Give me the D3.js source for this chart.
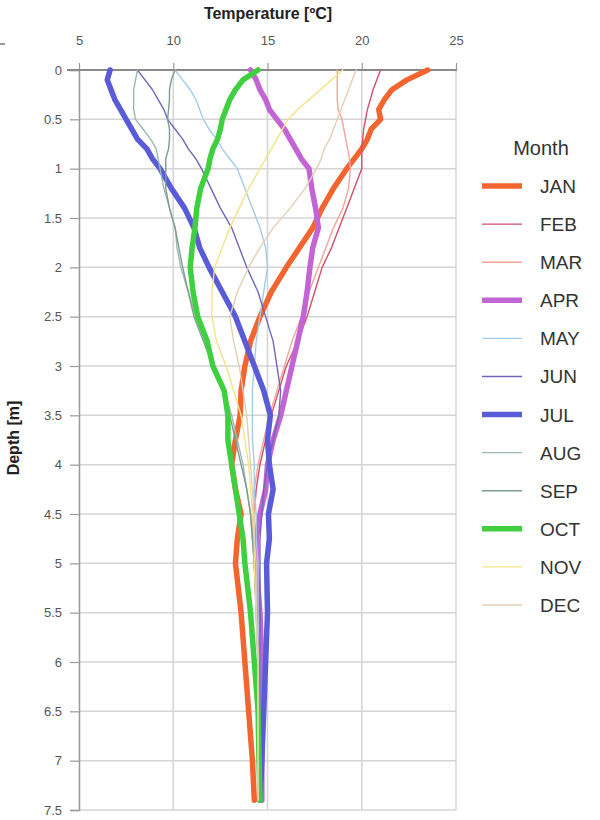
<!DOCTYPE html>
<html>
<head>
<meta charset="utf-8">
<script src="https://cdn.jsdelivr.net/npm/d3@7"></script>
<style>
  html, body { margin: 0; padding: 0; background: #fff; }
  svg { display: block; font-family: "Liberation Sans", Arial, sans-serif; }
</style>
</head>
<body>
<svg id="chart" width="600" height="820"></svg>
<script>
// Sampling depths (m) shared by every monthly profile
const depths = [0, 0.1, 0.2, 0.3, 0.4, 0.5, 0.6, 0.7, 0.8, 0.9, 1.0, 1.2, 1.4, 1.6, 1.8, 2.0,
  2.25, 2.5, 2.75, 3.0, 3.25, 3.5, 3.75, 4.0, 4.25, 4.5, 4.75, 5.0, 5.5, 6.0, 6.5, 7.0, 7.4];

// Monthly water temperature profiles (ºC), one value per depth
const JAN = [23.5, 22.4, 21.6, 21.2, 20.9, 21.0, 20.5, 20.3, 20.0, 19.6, 19.2, 18.5, 17.9, 17.4, 16.7, 16.0,
  15.2, 14.6, 14.1, 13.8, 13.6, 13.55, 13.3, 13.1, 13.3, 13.6, 13.4, 13.3, 13.6, 13.8, 14.0, 14.2, 14.3];
const FEB = [21.0, 20.8, 20.6, 20.45, 20.3, 20.2, 20.1, 20.05, 20.0, 20.0, 20.0, 19.6, 19.2, 18.8, 18.4, 17.9,
  17.5, 17.1, 16.6, 16.0, 15.6, 15.2, 14.9, 14.6, 14.4, 14.3, 14.3, 14.4, 14.5, 14.6, 14.6, 14.6, 14.6];
const MAR = [18.7, 18.7, 18.7, 18.7, 18.75, 18.95, 19.05, 19.15, 19.25, 19.35, 19.4, 19.3, 19.0, 18.5, 18.1, 17.7,
  17.2, 16.8, 16.3, 15.9, 15.5, 15.1, 14.8, 14.5, 14.3, 14.2, 14.2, 14.3, 14.4, 14.5, 14.5, 14.5, 14.5];
const APR = [14.1, 14.4, 14.6, 14.9, 15.1, 15.5, 15.9, 16.2, 16.5, 16.8, 17.2, 17.35, 17.55, 17.7, 17.4, 17.25,
  17.1, 16.9, 16.6, 16.3, 16.0, 15.7, 15.3, 15.0, 14.9, 14.6, 14.4, 14.4, 14.6, 14.7, 14.7, 14.7, 14.7];
const MAY = [10.1, 10.5, 10.9, 11.2, 11.4, 11.6, 11.9, 12.3, 12.6, 13.0, 13.4, 13.8, 14.2, 14.6, 14.9, 15.0,
  14.8, 14.6, 14.4, 14.3, 14.2, 14.2, 14.2, 14.3, 14.3, 14.4, 14.4, 14.5, 14.5, 14.6, 14.6, 14.6, 14.6];
const JUN = [8.1, 8.5, 8.9, 9.2, 9.5, 9.7, 10.1, 10.5, 10.8, 11.2, 11.5, 12.0, 12.5, 13.1, 13.5, 13.9,
  14.5, 14.9, 15.3, 15.5, 15.7, 15.6, 15.3, 15.0, 14.8, 14.7, 14.6, 14.6, 14.6, 14.6, 14.6, 14.6, 14.6];
const JUL = [6.65, 6.5, 6.7, 6.9, 7.2, 7.5, 7.8, 8.1, 8.6, 8.9, 9.3, 9.9, 10.6, 11.1, 11.4, 11.9,
  12.6, 13.3, 13.8, 14.3, 14.8, 15.15, 15.0, 15.1, 15.3, 15.05, 15.1, 14.95, 15.0, 14.9, 14.8, 14.7, 14.6];
const AUG = [8.1, 8.0, 7.9, 7.9, 7.9, 8.0, 8.4, 8.8, 9.1, 9.2, 9.3, 9.5, 9.8, 10.1, 10.2, 10.4,
  10.8, 11.2, 11.7, 12.2, 12.7, 13.1, 13.4, 13.7, 13.9, 14.1, 14.2, 14.3, 14.4, 14.5, 14.5, 14.5, 14.5];
const SEP = [10.1, 9.9, 9.8, 9.8, 9.75, 9.7, 9.8, 9.8, 9.75, 9.6, 9.6, 9.6, 9.8, 10.1, 10.3, 10.5,
  10.8, 11.1, 11.6, 12.1, 12.6, 13.0, 13.3, 13.6, 13.9, 14.1, 14.2, 14.3, 14.4, 14.5, 14.5, 14.5, 14.5];
const OCT = [14.5, 13.7, 13.3, 13.0, 12.8, 12.6, 12.5, 12.35, 12.1, 11.95, 11.85, 11.45, 11.25, 11.15, 11.0, 10.9,
  11.05, 11.3, 11.8, 12.1, 12.7, 12.9, 12.9, 13.1, 13.3, 13.5, 13.7, 13.8, 14.1, 14.3, 14.5, 14.55, 14.6];
const NOV = [19.0, 18.4, 17.8, 17.2, 16.6, 16.1, 15.8, 15.5, 15.2, 14.9, 14.6, 14.0, 13.5, 13.0, 12.6, 12.2,
  12.05, 12.05, 12.3, 12.8, 13.2, 13.6, 13.8, 14.0, 14.1, 14.2, 14.3, 14.3, 14.4, 14.5, 14.5, 14.5, 14.5];
const DEC = [19.7, 19.5, 19.3, 19.1, 18.9, 18.7, 18.5, 18.3, 18.0, 17.85, 17.6, 17.0, 16.2, 15.3, 14.6, 14.0,
  13.4, 13.0, 13.2, 13.5, 13.7, 13.9, 14.0, 14.1, 14.2, 14.3, 14.3, 14.4, 14.4, 14.5, 14.5, 14.5, 14.5];

const months = ["JAN", "FEB", "MAR", "APR", "MAY", "JUN", "JUL", "AUG", "SEP", "OCT", "NOV", "DEC"];
const profiles = [JAN, FEB, MAR, APR, MAY, JUN, JUL, AUG, SEP, OCT, NOV, DEC];
const colors = ["#f26531", "#d0506a", "#f2a59a", "#c264d4", "#a6cbe6", "#7266b6",
  "#5a5bd6", "#9cb8b0", "#7f9b91", "#3fcf3f", "#f2e48a", "#e2cfb6"];
const thick = [true, false, false, true, false, false, true, false, false, true, false, false];

const tempTicks = [5, 10, 15, 20, 25];
const depthTicks = d3.range(0, 7.51, 0.5);

const svg = d3.select("#chart");
const plotLeft = 79, plotRight = 456, plotTop = 70, plotBottom = 810;

const x = d3.scaleLinear().domain([5, 25]).range([plotLeft, plotRight]);
const y = d3.scaleLinear().domain([0, 7.5]).range([plotTop, plotBottom]);

// Grid
const grid = svg.append("g");
grid.selectAll("line.h").data(depthTicks.slice(1)).enter().append("line")
  .attr("x1", plotLeft).attr("x2", plotRight)
  .attr("y1", d => y(d)).attr("y2", d => y(d))
  .attr("stroke", "#d4d4d4").attr("stroke-width", 1.5);
grid.selectAll("line.v").data(tempTicks.slice(1)).enter().append("line")
  .attr("x1", d => x(d)).attr("x2", d => x(d))
  .attr("y1", plotTop).attr("y2", plotBottom)
  .attr("stroke", "#d4d4d4").attr("stroke-width", 1.5);

// Left axis (depth)
const yAxis = svg.append("g").attr("transform", `translate(${plotLeft},0)`)
  .call(d3.axisLeft(y).tickValues(depthTicks).tickSize(9).tickPadding(8)
    .tickFormat(d => d3.format("~g")(d)));
yAxis.select(".domain").attr("stroke", "#999").attr("stroke-width", 1.5);
yAxis.selectAll(".tick line").attr("stroke", "#999").attr("stroke-width", 1.2);
yAxis.selectAll(".tick text").attr("fill", "#555").attr("font-size", 13)
  .attr("font-family", "Liberation Sans, Arial, sans-serif");

// Top axis (temperature)
const xAxis = svg.append("g").attr("transform", `translate(0,${plotTop})`)
  .call(d3.axisTop(x).tickValues(tempTicks).tickSize(7).tickPadding(18));
xAxis.select(".domain").remove();
xAxis.selectAll(".tick line").attr("stroke", "#999").attr("stroke-width", 1.2);
xAxis.selectAll(".tick text").attr("fill", "#555").attr("font-size", 13)
  .attr("font-family", "Liberation Sans, Arial, sans-serif");

// Surface line
svg.append("line").attr("x1", plotLeft - 12).attr("x2", plotRight + 1)
  .attr("y1", y(0)).attr("y2", y(0))
  .attr("stroke", "#8a8a8a").attr("stroke-width", 2.2);

// Profiles
const line = d3.line().x(d => x(d[1])).y(d => y(d[0]));
months.forEach((m, i) => {
  const pts = depths.map((d, k) => [d, profiles[i][k]]);
  svg.append("path").datum(pts)
    .attr("fill", "none")
    .attr("stroke", colors[i])
    .attr("stroke-width", thick[i] ? 5.5 : 1.4)
    .attr("stroke-linejoin", "round")
    .attr("stroke-linecap", "round")
    .attr("d", line);
});

// Titles
svg.append("text").attr("x", 268).attr("y", 19).attr("text-anchor", "middle")
  .attr("font-size", 16).attr("font-weight", "bold").attr("fill", "#222")
  .text("Temperature [ºC]");
svg.append("text").attr("transform", "translate(19,438) rotate(-90)")
  .attr("text-anchor", "middle").attr("font-size", 16).attr("font-weight", "bold")
  .attr("fill", "#222").text("Depth [m]");

// Small mark at top-left corner
svg.append("line").attr("x1", 0).attr("x2", 5).attr("y1", 44).attr("y2", 44)
  .attr("stroke", "#333").attr("stroke-width", 1);

// Legend
const legend = svg.append("g");
legend.append("text").attr("x", 541).attr("y", 155).attr("text-anchor", "middle")
  .attr("font-size", 20).attr("fill", "#333").text("Month");
const ly = d3.scalePoint().domain(months).range([186, 605]);
months.forEach((m, i) => {
  const g = legend.append("g").attr("transform", `translate(0,${ly(m)})`);
  g.append("line").attr("x1", 482).attr("x2", 522).attr("y1", 0).attr("y2", 0)
    .attr("stroke", colors[i]).attr("stroke-width", thick[i] ? 5.5 : 1.4);
  g.append("text").attr("x", 540).attr("y", 7).attr("font-size", 19)
    .attr("fill", "#333").text(m);
});
</script>
</body>
</html>
